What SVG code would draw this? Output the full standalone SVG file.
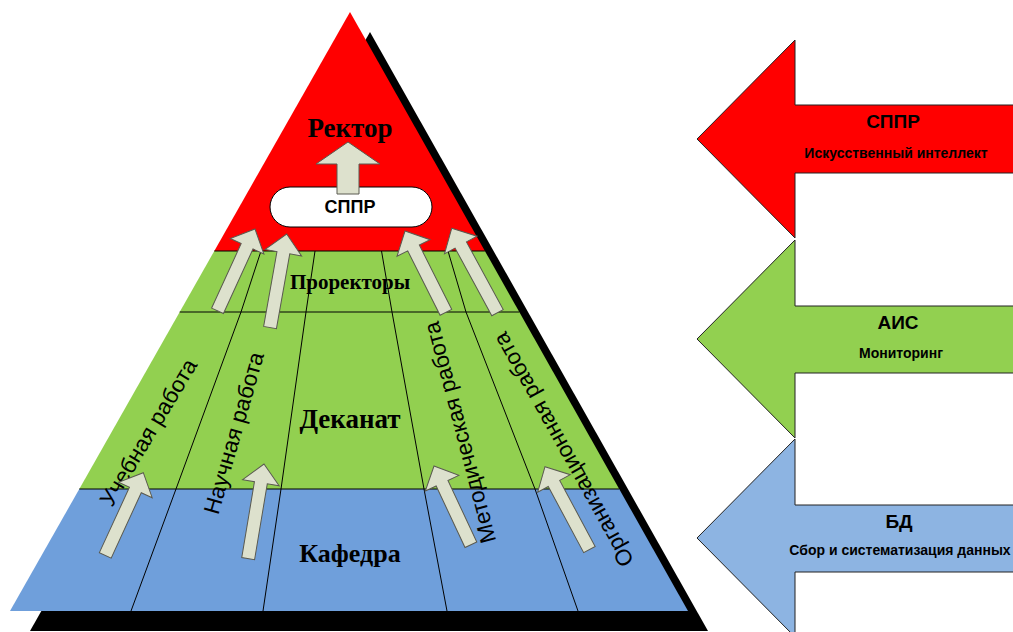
<svg xmlns="http://www.w3.org/2000/svg" width="1013" height="632" viewBox="0 0 1013 632">
<style>
.ln{stroke:#000;stroke-width:1;fill:none}
.arr{fill:#DDE1CD;stroke:#5a5a50;stroke-width:1}
.big{font-family:"Liberation Serif","Times New Roman",serif;font-weight:bold;text-anchor:middle;fill:#000}
.rot{font-family:"Liberation Sans",Arial,sans-serif;font-size:22.5px;text-anchor:middle;dominant-baseline:central;fill:#000}
.rt{font-family:"Liberation Sans",Arial,sans-serif;font-weight:bold;text-anchor:middle;fill:#000}
.ra{stroke:#222;stroke-width:1}
</style>
<rect width="1013" height="632" fill="#fff"/>
<g id="pyramid-shadow"><polygon points="370,32 30,631 708,631" fill="#000"/></g>
<g id="rector">
<polygon points="350,12 484.9,251 214.3,251" fill="#FF0000"/>
<text class="big" x="350" y="137" font-size="27">Ректор</text>
</g>
<g id="prorectors">
<polygon points="214.3,251 484.9,251 519.3,312 179.7,312" fill="#92D050"/>
</g>
<g id="dekanat">
<polygon points="179.7,312 519.3,312 619.2,489 79.3,489" fill="#92D050"/>
</g>
<g id="kafedra">
<polygon points="79.3,489 619.2,489 688,611 10,611" fill="#6F9FDB"/>
</g>
<g id="grid">
<line class="ln" x1="214.3" y1="251" x2="484.9" y2="251"/>
<line class="ln" x1="179.7" y1="312" x2="519.3" y2="312"/>
<line class="ln" x1="79.3" y1="489" x2="619.2" y2="489"/>
<polyline class="ln" points="261,251 241,312 176,489 131,611"/>
<polyline class="ln" points="315,251 306,312 281,489 263,611"/>
<polyline class="ln" points="381.5,251 392,312 424,489 447,611"/>
<polyline class="ln" points="448,251 466,312 535,489 578,611"/>
</g>
<g id="labels">
<text class="big" x="350" y="289" font-size="21">Проректоры</text>
<text class="big" x="350" y="428" font-size="27">Деканат</text>
<text class="big" x="350" y="562" font-size="26">Кафедра</text>
<text class="rot" transform="translate(148.5,432.5) rotate(-59)">Учебная работа</text>
</g>
<g id="sppr">
<rect x="270" y="187" width="162" height="40" rx="20" fill="#fff" stroke="#000" stroke-width="1"/>
<text class="rt" x="350" y="213" font-size="18">СППР</text>
</g>
<g id="connectors">
<path class="arr" d="M348,142 L380,164 L359,164 L359,194 L337,194 L337,164 L316,164 Z"/>
<path class="arr" transform="translate(255,229) rotate(24.6)" d="M0,0 L18.5,19 L6.5,19 L6.5,90 L-6.5,90 L-6.5,19 L-18.5,19 Z"/>
<path class="arr" transform="translate(286.7,234) rotate(10.1)" d="M0,0 L18.5,19 L6.5,19 L6.5,95 L-6.5,95 L-6.5,19 L-18.5,19 Z"/>
<path class="arr" transform="translate(405,231) rotate(-26.7)" d="M0,0 L18.5,19 L6.5,19 L6.5,91 L-6.5,91 L-6.5,19 L-18.5,19 Z"/>
<path class="arr" transform="translate(451.7,228.3) rotate(-28.5)" d="M0,0 L18.5,19 L6.5,19 L6.5,96 L-6.5,96 L-6.5,19 L-18.5,19 Z"/>
<path class="arr" transform="translate(143.3,472.7) rotate(24.7)" d="M0,0 L18.5,19 L6.5,19 L6.5,91 L-6.5,91 L-6.5,19 L-18.5,19 Z"/>
<path class="arr" transform="translate(264,464) rotate(9.5)" d="M0,0 L18.5,19 L6.5,19 L6.5,96 L-6.5,96 L-6.5,19 L-18.5,19 Z"/>
<path class="arr" transform="translate(434,466) rotate(-25.1)" d="M0,0 L18.5,19 L6.5,19 L6.5,87 L-6.5,87 L-6.5,19 L-18.5,19 Z"/>
<path class="arr" transform="translate(545,466.7) rotate(-28.2)" d="M0,0 L18.5,19 L6.5,19 L6.5,94 L-6.5,94 L-6.5,19 L-18.5,19 Z"/>
</g>
<g id="column-labels">
<text class="rot" transform="translate(234,433) rotate(-74)">Научная работа</text>
<text class="rot" transform="translate(460,432.5) rotate(-104.75)">Методическая работа</text>
<text class="rot" transform="translate(563.5,449.5) rotate(-119.2)">Организационная работа</text>
</g>
<g id="arrow-sppr">
<polygon class="ra" points="697,139 795,40 795,105 1014,105 1014,173 795,173 795,238" fill="#FF0000"/>
<text class="rt" x="893" y="128" font-size="19">СППР</text>
<text class="rt" x="896" y="158" font-size="14">Искусственный интеллект</text>
</g>
<g id="arrow-ais">
<polygon class="ra" points="697,339 795,240 795,306 1014,306 1014,373 795,373 795,438" fill="#92D050"/>
<text class="rt" x="898" y="329" font-size="19">АИС</text>
<text class="rt" x="901" y="358" font-size="14">Мониторинг</text>
</g>
<g id="arrow-bd">
<polygon class="ra" points="697,538 795,439 795,505 1014,505 1014,572 795,572 795,637" fill="#8DB4E2"/>
<text class="rt" x="899" y="528" font-size="19">БД</text>
<text class="rt" x="900" y="555" font-size="14">Сбор и систематизация данных</text>
</g>
</svg>
